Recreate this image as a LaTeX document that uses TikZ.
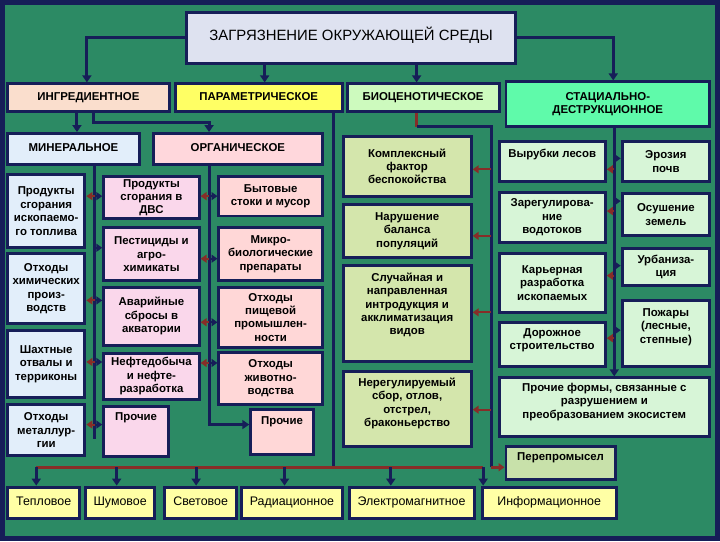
\documentclass[tikz,border=0pt]{standalone}
\usepackage{fontspec}
\setmainfont{Liberation Sans}
\usepackage{tikz}
\usetikzlibrary{arrows.meta}
\definecolor{bg}{RGB}{44,138,100}
\definecolor{navy}{RGB}{22,30,88}
\definecolor{rust}{RGB}{135,45,40}
\definecolor{titlecol}{RGB}{222,226,240}
\definecolor{ingrcol}{RGB}{250,222,205}
\definecolor{paramcol}{RGB}{255,255,100}
\definecolor{biocol}{RGB}{205,250,190}
\definecolor{statcol}{RGB}{95,250,170}
\definecolor{mincol}{RGB}{226,238,250}
\definecolor{orgcol}{RGB}{255,215,220}
\definecolor{midcol}{RGB}{250,215,235}
\definecolor{orgitem}{RGB}{255,215,215}
\definecolor{bioitem}{RGB}{212,230,172}
\definecolor{statitem}{RGB}{215,245,215}
\definecolor{perepcol}{RGB}{200,225,170}
\definecolor{kindcol}{RGB}{255,255,165}
\tikzstyle{box}=[draw=navy, line width=3pt, inner sep=1pt, align=center, text=black, font=\fontsize{11.5}{13.5}\selectfont\bfseries]
\tikzstyle{oneline}=[text height=8.5pt, text depth=2.5pt]
\tikzstyle{kind}=[box, oneline, fill=kindcol, font=\fontsize{12.5}{14}\selectfont]
\tikzstyle{conn}=[draw=navy, line width=3pt, -{Triangle[length=7pt,width=9pt]}]
\tikzstyle{line}=[draw=navy, line width=3pt]
\tikzstyle{bar}=[draw=rust, line width=3pt]
\tikzstyle{stubL}=[draw=rust, line width=2pt, -{Triangle[length=6pt,width=8pt]}]
\tikzstyle{stubR}=[draw=navy, line width=2pt, -{Triangle[length=6pt,width=8pt]}]
\tikzset{toptext/.style={text depth=#1}}

\begin{document}
\begin{tikzpicture}[x=1pt, y=-1pt]
    \fill [bg] (0,0) rectangle (720,540);
    \draw [navy, line width=5pt] (0,0) rectangle (720,540);
    \useasboundingbox (0,0) rectangle (720,540);

    % top levels
    \node [box, oneline, fill=titlecol, minimum width=332, minimum height=51, font=\fontsize{15}{17}\selectfont] (title) at (351,35.5) {ЗАГРЯЗНЕНИЕ ОКРУЖАЮЩЕЙ СРЕДЫ};
    \node [box, oneline, fill=ingrcol, minimum width=163, minimum height=28] (ingr) at (86.5,96) {ИНГРЕДИЕНТНОЕ};
    \node [box, oneline, fill=paramcol, minimum width=168, minimum height=28] (param) at (258,96) {ПАРАМЕТРИЧЕСКОЕ};
    \node [box, oneline, fill=biocol, minimum width=153, minimum height=28] (bio) at (423.5,96) {БИОЦЕНОТИЧЕСКОЕ};
    \node [box, fill=statcol, minimum width=205, minimum height=45] (stat) at (609.5,102.5) {СТАЦИАЛЬНО-\\ДЕСТРУКЦИОННОЕ};
    \node [box, oneline, fill=mincol, minimum width=133, minimum height=31] (miner) at (71.5,147.5) {МИНЕРАЛЬНОЕ};
    \node [box, oneline, fill=orgcol, minimum width=170, minimum height=31] (organ) at (237,147.5) {ОРГАНИЧЕСКОЕ};

    % mineral
    \node [box, fill=mincol, minimum width=78, minimum height=74] (m1) at (44,210) {Продукты\\сгорания\\ископаемо-\\го топлива};
    \node [box, fill=mincol, minimum width=78, minimum height=70] (m2) at (44,288) {Отходы\\химических\\произ-\\водств};
    \node [box, fill=mincol, minimum width=78, minimum height=68] (m3) at (44,364) {Шахтные\\отвалы и\\терриконы};
    \node [box, fill=mincol, minimum width=78, minimum height=51] (m4) at (44,430.5) {Отходы\\металлур-\\гии};

    % middle column
    \node [box, fill=midcol, minimum width=96, minimum height=43] (d1) at (150,196.5) {Продукты\\сгорания в\\ДВС};
    \node [box, fill=midcol, minimum width=96, minimum height=53] (d2) at (150,253.5) {Пестициды и\\агро-\\химикаты};
    \node [box, fill=midcol, minimum width=96, minimum height=58] (d3) at (150,316) {Аварийные\\сбросы в\\акватории};
    \node [box, fill=midcol, minimum width=96, minimum height=47] (d4) at (150,376.5) {Нефтедобыча\\и нефте-\\разработка};
    \node [box, fill=midcol, minimum width=65, minimum height=50, toptext=31pt] (d5) at (134.5,432) {Прочие};

    % organic
    \node [box, fill=orgitem, minimum width=104, minimum height=40] (o1) at (270,195) {Бытовые\\стоки и мусор};
    \node [box, fill=orgitem, minimum width=104, minimum height=53] (o2) at (270,253.5) {Микро-\\биологические\\препараты};
    \node [box, fill=orgitem, minimum width=104, minimum height=60] (o3) at (270,317) {Отходы\\пищевой\\промышлен-\\ности};
    \node [box, fill=orgitem, minimum width=104, minimum height=53] (o4) at (270,378.5) {Отходы\\животно-\\водства};
    \node [box, fill=orgitem, minimum width=63, minimum height=45, toptext=23pt] (o5) at (281.5,432.5) {Прочие};

    % biocenotic
    \node [box, fill=bioitem, minimum width=129, minimum height=60] (b1) at (407.5,165) {Комплексный\\фактор\\беспокойства};
    \node [box, fill=bioitem, minimum width=129, minimum height=54] (b2) at (407.5,230) {Нарушение\\баланса\\популяций};
    \node [box, fill=bioitem, minimum width=129, minimum height=97, toptext=20pt] (b3) at (407.5,313.5) {Случайная и\\направленная\\интродукция и\\акклиматизация\\видов};
    \node [box, fill=bioitem, minimum width=129, minimum height=75, toptext=14pt] (b4) at (407.5,409.5) {Нерегулируемый\\сбор, отлов,\\отстрел,\\браконьерство};
    \node [box, fill=perepcol, minimum width=110, minimum height=33, toptext=13pt] (perep) at (562,463.5) {Перепромысел};

    % stational
    \node [box, fill=statitem, minimum width=107, minimum height=40, toptext=17pt] (s1) at (553.5,160) {Вырубки лесов};
    \node [box, fill=statitem, minimum width=107, minimum height=51] (s2) at (553.5,216.5) {Зарегулирова-\\ние\\водотоков};
    \node [box, fill=statitem, minimum width=107, minimum height=59] (s3) at (553.5,282.5) {Карьерная\\разработка\\ископаемых};
    \node [box, fill=statitem, minimum width=107, minimum height=45, toptext=11pt] (s4) at (553.5,344.5) {Дорожное\\строительство};
    \node [box, fill=statitem, minimum width=88, minimum height=40] (r1) at (668,160) {Эрозия\\почв};
    \node [box, fill=statitem, minimum width=88, minimum height=43] (r2) at (668,213.5) {Осушение\\земель};
    \node [box, fill=statitem, minimum width=88, minimum height=37] (r3) at (668,266.5) {Урбаниза-\\ция};
    \node [box, fill=statitem, minimum width=88, minimum height=67, toptext=16pt] (r4) at (668,333.5) {Пожары\\(лесные,\\степные)};
    \node [box, fill=statitem, minimum width=212, minimum height=59, toptext=13pt] (s5) at (606,407.5) {Прочие формы, связанные с\\разрушением и\\преобразованием экосистем};

    % parametric kinds
    \node [kind, minimum width=73, minimum height=32] (t1) at (41.5,504) {Тепловое};
    \node [kind, minimum width=69, minimum height=32] (t2) at (118.5,504) {Шумовое};
    \node [kind, minimum width=73, minimum height=32] (t3) at (199.5,504) {Световое};
    \node [kind, minimum width=101, minimum height=32] (t4) at (291.5,504) {Радиационное};
    \node [kind, minimum width=126, minimum height=32] (t5) at (412,504) {Электромагнитное};
    \node [kind, minimum width=135, minimum height=32] (t6) at (550.5,504) {Информационное};

    % connectors from the title
    \draw [conn] (title.west) -| (ingr.north -| 85,0);
    \draw [conn] (title.south -| 264,0) -- (param.north -| 264,0);
    \draw [conn] (title.south -| 417,0) -- (bio.north -| 417,0);
    \draw [conn] (title.east) -| (stat.north -| 615,0);
    \draw [conn] (ingr.south -| 75,0) -- (miner.north -| 75,0);
    \draw [conn] (ingr.south -| 92,0) |- (208,121) -- (organ.north -| 208,0);

    % mineral line
    \draw [line] (miner.south -| 93,0) -- (93,440);
    \foreach \y/\m in {195/m1, 300/m2, 362/m3, 425/m4}
        \draw [stubL] (93,\y) -- (\m.east |- 0,\y);
    \foreach \y/\d in {195/d1, 247/d2, 300/d3, 362/d4, 425/d5}
        \draw [stubR] (93,\y) -- (\d.west |- 0,\y);

    % organic line
    \draw [conn] (organ.south -| 208,0) |- (o5.west |- 0,425);
    \foreach \y/\d/\o in {195/d1/o1, 258/d2/o2, 322/d3/o3, 363/d4/o4} {
        \draw [stubL] (208,\y) -- (\d.east |- 0,\y);
        \draw [stubR] (208,\y) -- (\o.west |- 0,\y);
    }

    % parametric bar
    \coordinate (barL) at (34,468);
    \coordinate (barR) at (484,468);
    \draw [line] (param.south -| 333,0) -- (333,468);
    \draw [bar] (barL) -- (barR);
    \foreach \t/\x in {t1/34, t2/115, t3/195, t4/284, t5/391, t6/484}
        \draw [conn] (\x,468) -- (\t.north -| \x,0);

    % biocenotic line
    \draw [bar] (bio.south -| 417,0) -- (417,125);
    \draw [line] (417,125) -| (492,468);
    \draw [stubL, line width=3pt] (492,468) -- (perep.west |- 0,468);
    \foreach \y/\b in {168/b1, 235/b2, 312/b3, 410/b4}
        \draw [stubL] (492,\y) -- (\b.east |- 0,\y);

    % stational line
    \draw [conn] (stat.south -| 616,0) -- (s5.north -| 616,0);
    \foreach \y/\s in {168/s1, 210/s2, 275/s3, 338/s4}
        \draw [stubL] (616,\y) -- (\s.east |- 0,\y);
    \foreach \y/\r in {157/r1, 200/r2, 265/r3, 330/r4}
        \draw [stubR] (616,\y) -- (\r.west |- 0,\y);
\end{tikzpicture}
\end{document}
